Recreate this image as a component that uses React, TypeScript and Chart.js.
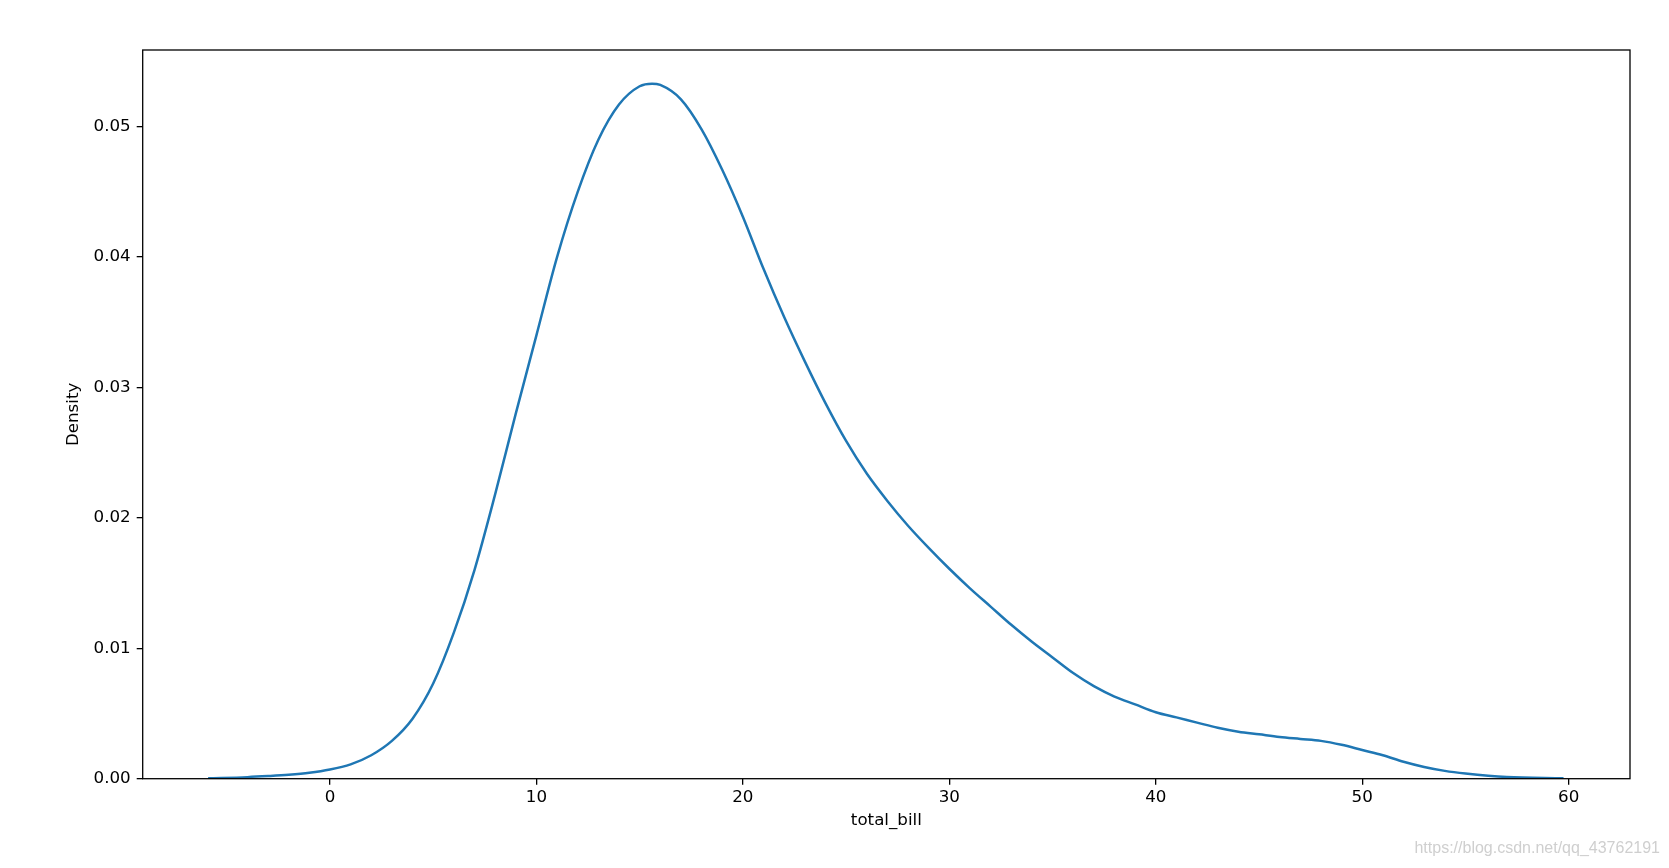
import React, { useEffect, useRef } from "react";
import { Chart, registerables } from "chart.js";

Chart.register(...registerables);

const totalBill: number[] = [
  -5.9, -4, -3, -2, -1, 0, 1, 2, 3, 4, 5, 6, 7, 8, 9, 10, 11, 12, 13, 14, 15, 15.6, 16, 17,
  18, 19, 20, 21, 22, 23, 24, 25, 26, 27, 28, 29, 30, 31, 32, 33, 34, 35, 36, 37, 38, 39, 40,
  41, 42, 43, 44, 45, 46, 47, 48, 49, 50, 51, 52, 53, 54, 55, 57, 59.75,
];

const density: number[] = [
  0.00003, 0.00012, 0.0002, 0.0003, 0.00045, 0.0007, 0.0011, 0.0018, 0.0029, 0.0046, 0.0073,
  0.0112, 0.016, 0.0218, 0.028, 0.034, 0.04, 0.045, 0.049, 0.0517, 0.0531, 0.0533, 0.0532,
  0.0521, 0.0498, 0.0467, 0.0431, 0.0391, 0.0354, 0.032, 0.0288, 0.0259, 0.0234, 0.0213,
  0.0194, 0.0177, 0.0161, 0.0146, 0.0132, 0.0118, 0.0105, 0.0093, 0.0081, 0.0071, 0.0063,
  0.0057, 0.0051, 0.0047, 0.0043, 0.0039, 0.0036, 0.0034, 0.0032, 0.00305, 0.0029, 0.0026,
  0.0022, 0.0018, 0.0013, 0.0009, 0.0006, 0.0004, 0.00013, 0.00003,
];

const xTicks: number[] = [0, 10, 20, 30, 40, 50, 60];
const yTicks: number[] = [0, 0.01, 0.02, 0.03, 0.04, 0.05];

const xLabel = "total_bill";
const yLabel = "Density";
const watermark = "https://blog.csdn.net/qq_43762191";

const FONT = "'DejaVu Sans', sans-serif";

const boxPlugin = {
  id: "boxPlugin",
  afterDatasetsDraw(chart: any) {
    const { ctx, chartArea } = chart;
    ctx.save();
    ctx.strokeStyle = "#000";
    ctx.lineWidth = 1.3;
    ctx.strokeRect(chartArea.left, chartArea.top, chartArea.right - chartArea.left, chartArea.bottom - chartArea.top);
    ctx.restore();
  },
};

export default function App() {
  const ref = useRef<HTMLCanvasElement | null>(null);

  useEffect(() => {
    if (!ref.current) return;
    const chart = new Chart(ref.current, {
      type: "line",
      data: {
        datasets: [
          {
            data: totalBill.map((x, i) => ({ x, y: density[i] })),
            borderColor: "#1f77b4",
            borderWidth: 2.5,
            pointRadius: 0,
            fill: false,
            cubicInterpolationMode: "monotone",
          },
        ],
      },
      options: {
        responsive: false,
        animation: false,
        layout: { padding: { top: 50, right: 39, left: 0, bottom: 0 } },
        plugins: { legend: { display: false }, tooltip: { enabled: false } },
        scales: {
          x: {
            type: "linear",
            min: -9.07,
            max: 62.97,
            afterBuildTicks: (s: any) => {
              s.ticks = xTicks.map((v) => ({ value: v }));
            },
            afterFit: (s: any) => {
              s.height = 89.3;
            },
            grid: { drawOnChartArea: false, drawTicks: true, tickLength: 6, color: "#000", lineWidth: 1.3 },
            border: { display: false },
            ticks: {
              color: "#000",
              font: { family: FONT, size: 16.7 },
              padding: 3,
              maxRotation: 0,
              callback: (v: any) => String(v),
            },
            title: {
              display: true,
              text: xLabel,
              color: "#000",
              font: { family: FONT, size: 16.7 },
              padding: { top: 0, bottom: 37 },
            },
          },
          y: {
            type: "linear",
            min: 0,
            max: 0.05588,
            afterBuildTicks: (s: any) => {
              s.ticks = yTicks.map((v) => ({ value: v }));
            },
            afterFit: (s: any) => {
              s.width = 142.7;
            },
            grid: { drawOnChartArea: false, drawTicks: true, tickLength: 6, color: "#000", lineWidth: 1.3 },
            border: { display: false },
            ticks: {
              color: "#000",
              font: { family: FONT, size: 16.7 },
              padding: 6,
              callback: (v: any) => Number(v).toFixed(2),
            },
            title: {
              display: true,
              text: yLabel,
              color: "#000",
              font: { family: FONT, size: 16.7 },
              padding: { top: 64, bottom: 0 },
            },
          },
        },
      },
      plugins: [boxPlugin],
    } as any);
    return () => chart.destroy();
  }, []);

  return (
    <div style={{ position: "absolute", left: 0, top: 0, width: 1669, height: 868, background: "#fff", overflow: "hidden" }}>
      <canvas ref={ref} width={1669} height={868} style={{ display: "block" }} />
      <div
        style={{
          position: "absolute",
          right: 9,
          top: 839,
          fontFamily: "'Liberation Sans', Arial, sans-serif",
          fontSize: 16,
          color: "#cfcfcf",
          whiteSpace: "nowrap",
        }}
      >
        {watermark}
      </div>
    </div>
  );
}
